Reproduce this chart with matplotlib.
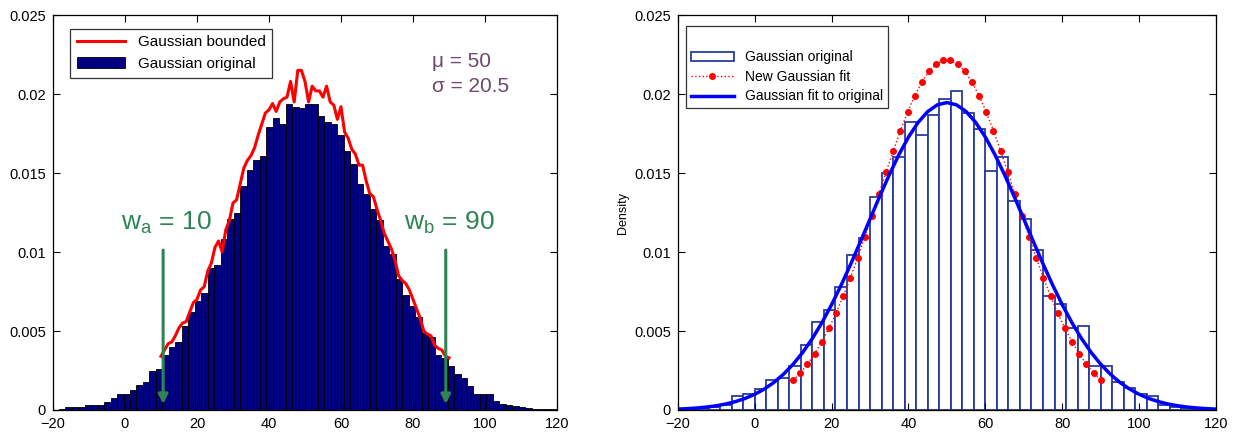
import numpy as np
import matplotlib
matplotlib.use("Agg")
import matplotlib.pyplot as plt

plt.rcParams['font.family'] = ['Liberation Sans', 'DejaVu Sans']

# left panel: original gaussian histogram (bin width 1.8, first edge -18.4)
orig_start, orig_width = -18.4, 1.8
orig_density = [0.00004, 0.00017, 0.00017, 0.00017, 0.0003, 0.0003, 0.00034, 0.0005,
                0.00073, 0.001, 0.00103, 0.00126, 0.0016, 0.00176, 0.0025, 0.0026,
                0.0035, 0.004, 0.0043, 0.0053, 0.0062, 0.0069, 0.0074, 0.009,
                0.0092, 0.0108, 0.0121, 0.0125, 0.0142, 0.0152, 0.0158, 0.0161,
                0.0179, 0.0185, 0.0181, 0.0194, 0.0192, 0.0191, 0.0194, 0.0194,
                0.0186, 0.0182, 0.0181, 0.0174, 0.0164, 0.0156, 0.0143, 0.0137,
                0.0127, 0.0120, 0.0104, 0.0099, 0.0083, 0.0073, 0.0066, 0.0059,
                0.0049, 0.0046, 0.0035, 0.0033, 0.0028, 0.0023, 0.0020, 0.0015,
                0.0010, 0.0010, 0.0010, 0.00057, 0.0004, 0.0003, 0.00025, 0.0002,
                0.00012, 0.00008, 0.00006, 0.00005, 0.00004]

# bounded gaussian, x = 10..90 step 1
bounded_x = np.arange(10, 91)
bounded_y = [0.0034, 0.0038, 0.0042, 0.0043, 0.0047, 0.0052, 0.0055, 0.0056, 0.0062, 0.0068,
             0.0070, 0.0076, 0.0078, 0.0088, 0.0093, 0.0103, 0.0107, 0.0100, 0.0114, 0.0120,
             0.0131, 0.0133, 0.0143, 0.0153, 0.0158, 0.0161, 0.0166, 0.0174, 0.0181, 0.0188,
             0.0190, 0.0194, 0.0189, 0.0195, 0.0197, 0.0198, 0.0208, 0.0195, 0.0215, 0.0215,
             0.0208, 0.0195, 0.0205, 0.0202, 0.0202, 0.0198, 0.0205, 0.0195, 0.0193, 0.0184,
             0.0192, 0.0176, 0.0172, 0.0165, 0.0162, 0.0155, 0.0155, 0.0145, 0.0137, 0.0135,
             0.0127, 0.0120, 0.0112, 0.0107, 0.0102, 0.0095, 0.0085, 0.0082, 0.0080, 0.0076,
             0.0070, 0.0064, 0.0058, 0.0050, 0.0048, 0.0047, 0.0041, 0.0039, 0.0038, 0.0034,
             0.0033]

# right panel: histogram with bin width 3 starting at -18
right_start, right_width = -18, 3
right_density = [0.00006, 0.00012, 0.00017, 0.0003, 0.00088, 0.001, 0.0013, 0.0019,
                 0.002, 0.0028, 0.0041, 0.0056, 0.0063, 0.0078, 0.0098, 0.0109,
                 0.0135, 0.0150, 0.0160, 0.0182, 0.0174, 0.0187, 0.0197, 0.0202,
                 0.0188, 0.0178, 0.0151, 0.0160, 0.0132, 0.0121, 0.0101, 0.0072,
                 0.0067, 0.0052, 0.0053, 0.0028, 0.0028, 0.0018, 0.0014, 0.0010,
                 0.0009, 0.0003, 0.0002, 0.00015, 0.0001, 0.00005]

# new gaussian fit, 44 points from 10 to 90
newfit_x = np.linspace(10, 90, 44)
newfit_half = [0.00188, 0.00235, 0.00291, 0.00356, 0.00432, 0.00518, 0.00614, 0.00721,
               0.00837, 0.00962, 0.01093, 0.01230, 0.01369, 0.01507, 0.01641, 0.01769,
               0.01886, 0.01989, 0.02076, 0.02144, 0.02190, 0.02213]
newfit_y = newfit_half + newfit_half[::-1]

# gaussian fit to original, x = -20..120 step 2.5 (symmetric about 50)
fit_x = np.arange(-20, 120.01, 2.5)
fit_half = [0.000057, 0.000086, 0.000128, 0.000186, 0.000269, 0.000381, 0.000532, 0.000733,
            0.000994, 0.001329, 0.001749, 0.002269, 0.002901, 0.003652, 0.004531, 0.005538,
            0.006670, 0.007914, 0.009251, 0.010655, 0.012091, 0.013517, 0.014889, 0.016159,
            0.017277, 0.018200, 0.018890, 0.019316, 0.019460]
fit_y = fit_half + fit_half[-2::-1]

xticks = [-20, 0, 20, 40, 60, 80, 100, 120]
yticks = [0, 0.005, 0.01, 0.015, 0.02, 0.025]
ytick_labels = ['0', '0.005', '0.01', '0.015', '0.02', '0.025']

green = '#2e8452'
purple = '#6e4870'

fig = plt.figure(figsize=(12.37, 4.34), dpi=100)
ax1 = fig.add_axes([0.0428, 0.0553, 0.4075, 0.910])
ax2 = fig.add_axes([0.548, 0.0553, 0.435, 0.910])

for ax in (ax1, ax2):
    ax.set_xlim(-20, 120)
    ax.set_ylim(0, 0.025)
    ax.set_xticks(xticks)
    ax.set_yticks(yticks)
    ax.set_yticklabels(ytick_labels)
    ax.tick_params(direction='in', top=True, right=True, labelsize=10.5, length=5, width=0.8)
    ax.tick_params(axis='x', pad=5)
    ax.tick_params(axis='y', pad=5)
    for s in ax.spines.values():
        s.set_linewidth(0.9)

# ---- left
left_edges = orig_start + orig_width * np.arange(len(orig_density))
bars = ax1.bar(left_edges, orig_density, width=orig_width, align='edge',
               color='#000080', edgecolor='black', linewidth=0.6)
line, = ax1.plot(bounded_x, bounded_y, color='red', lw=2.2)

leg1 = ax1.legend([line, bars], ['Gaussian bounded', 'Gaussian original'], loc='upper left',
                  bbox_to_anchor=(0.018, 0.985), fontsize=11, handlelength=3.2,
                  frameon=True, fancybox=False, edgecolor='black', borderpad=0.45,
                  labelspacing=0.5)
leg1.get_frame().set_linewidth(0.9)

for xa, lab, tx in [(10.6, r'w$_{\mathregular{a}}$ = 10', -1.0), (89.1, r'w$_{\mathregular{b}}$ = 90', 77.5)]:
    ax1.annotate('', xy=(xa, 0.0002), xytext=(xa, 0.0103),
                 arrowprops=dict(arrowstyle='-|>', color=green, lw=2.2, mutation_scale=14))
    ax1.text(tx, 0.0114, lab, color=green, fontsize=19, va='baseline')

ax1.text(85.2, 0.0217, u'\u03bc = 50', color=purple, fontsize=15, va='baseline')
ax1.text(85.2, 0.0201, u'\u03c3 = 20.5', color=purple, fontsize=15, va='baseline')

# ---- right
right_edges = right_start + right_width * np.arange(len(right_density))
hbars = ax2.bar(right_edges, right_density, width=right_width, align='edge',
                facecolor='white', edgecolor='#2a3c9c', linewidth=1.3)
newline, = ax2.plot(newfit_x, newfit_y, ':', color='red', lw=1.0, marker='.', markersize=8)
fitline, = ax2.plot(fit_x, fit_y, color='blue', lw=2.5)
ax2.set_ylabel('Density', fontsize=9, labelpad=4)

leg2 = ax2.legend([hbars, newline, fitline],
                  ['Gaussian original', 'New Gaussian fit', 'Gaussian fit to original'],
                  loc='upper left', bbox_to_anchor=(0.002, 0.99), fontsize=10,
                  handlelength=3.1, numpoints=1, title=' ', title_fontsize=10,
                  frameon=True, fancybox=False, edgecolor='black', borderpad=0.35,
                  labelspacing=0.4)
leg2.get_frame().set_linewidth(0.9)

fig.savefig('out.png', dpi=100)
